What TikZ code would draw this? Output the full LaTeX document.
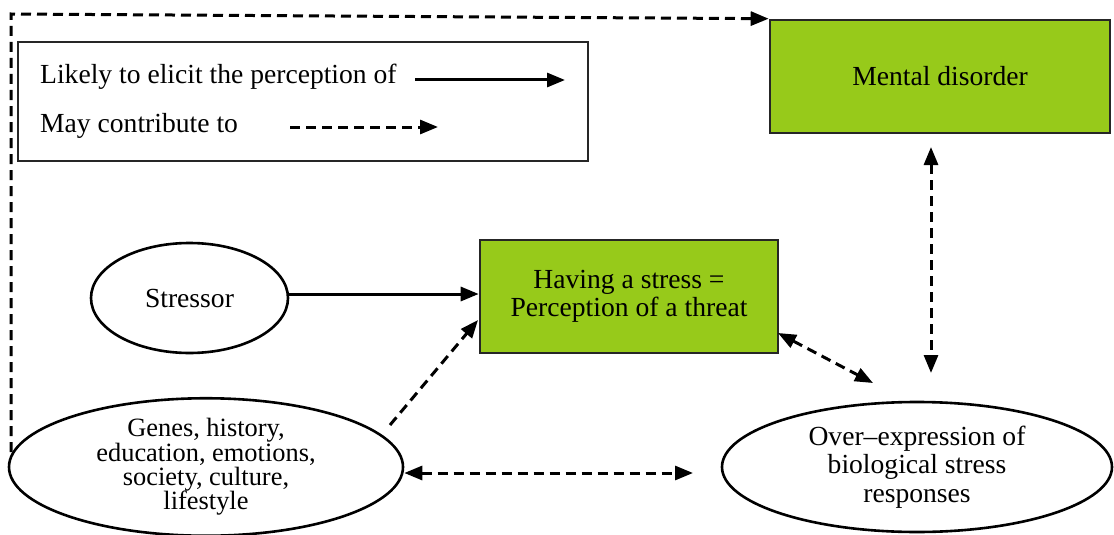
\documentclass[tikz,border=0pt]{standalone}
\usepackage{fontspec}
\setmainfont{Liberation Serif}
\usetikzlibrary{arrows.meta,shapes.geometric}
\definecolor{boxgreen}{RGB}{151,202,26}
\begin{document}
\begin{tikzpicture}[x=1pt,y=-1pt,
  every node/.style={font=\fontsize{27.6}{29}\selectfont},
  greenbox/.style={draw=black!85,line width=2.6pt,fill=boxgreen,inner sep=0pt,align=center},
  oval/.style={draw=black,line width=2.6pt,ellipse,inner sep=0pt,align=center},
  tip/.style={-{Triangle[length=18pt,width=14pt]}},
  dtip/.style={{Triangle[length=18pt,width=14pt]}-{Triangle[length=18pt,width=14pt]}},
  solidarrow/.style={line width=3pt,tip},
  dasharrow/.style={line width=3pt,dash pattern=on 10pt off 6pt,tip},
  ddasharrow/.style={line width=3pt,dash pattern=on 10pt off 6pt,dtip}]
\useasboundingbox (0,0) rectangle (1114,535);
% legend
\node[draw=black!85,line width=2.4pt,minimum width=570pt,minimum height=119pt,inner sep=0pt] (legend) at (303,101.5) {};
\node[anchor=west,inner sep=0pt] (l1) at (40,77) {Likely to elicit the perception of};
\node[anchor=west,inner sep=0pt] (l2) at (40,126) {May contribute to};
\coordinate (l1a) at (415,80);
\coordinate (l1b) at (565,80);
\coordinate (l2a) at (290,127);
\coordinate (l2b) at (438,127);
\draw[solidarrow] (l1a) -- (l1b);
\draw[dasharrow] (l2a) -- (l2b);
% boxes
\node[greenbox,minimum width=340pt,minimum height=113pt] (mental) at (940,76.5) {Mental disorder};
\node[greenbox,minimum width=298pt,minimum height=113pt] (having) at (629,296.5) {Having a stress =\\[-1pt]Perception of a threat};
% ellipses
\node[oval,minimum width=197pt,minimum height=110pt] (stressor) at (189.5,298) {Stressor};
\node[oval,minimum width=394pt,minimum height=134pt,font=\fontsize{26.4}{24.4}\selectfont] (genes) at (206,467) {Genes, history,\\education, emotions,\\society, culture,\\lifestyle};
\node[oval,minimum width=390pt,minimum height=130pt,font=\fontsize{27.6}{28.5}\selectfont] (over) at (917,467) {Over--expression of\\biological stress\\responses};
% connectors
\draw[solidarrow] (stressor.east |- 0,294) -- (having.west |- 0,294);
\coordinate (g1) at (390,425);
\coordinate (h1) at (478,320);
\draw[dasharrow] (g1) -- (h1);
\coordinate (o1) at (693,473);
\draw[ddasharrow] (genes.east |- 0,473) -- (o1);
\coordinate (h2) at (778,333);
\coordinate (o2) at (873,383);
\draw[ddasharrow] (h2) -- (o2);
\coordinate (m1) at (931,147);
\coordinate (o3) at (931,373);
\draw[ddasharrow] (m1) -- (o3);
\coordinate (c1) at (11,452);
\coordinate (c2) at (11,14);
\draw[dasharrow] (c1) -- (c2) -- (mental.north west);
\end{tikzpicture}
\end{document}
